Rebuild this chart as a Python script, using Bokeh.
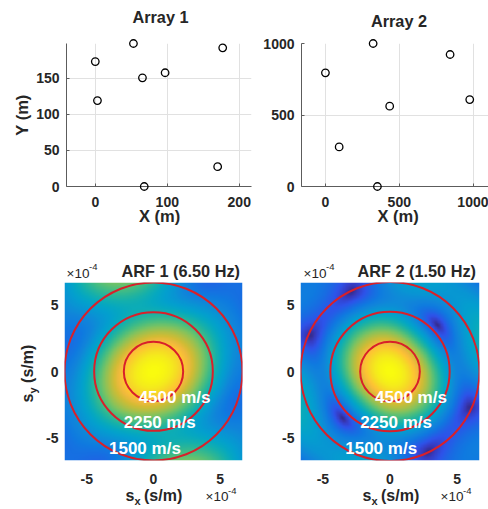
import numpy as np
from bokeh.plotting import figure
from bokeh.models import FixedTicker, LinearColorMapper
from bokeh.layouts import column, row
from bokeh.embed import file_html
from bokeh.resources import INLINE
from bokeh.core.properties import value

# ---------------- data ----------------
arr1_x = [0, 3, 53, 65.5, 97, 68, 170, 177]
arr1_y = [173, 119, 198, 150.5, 157.5, 0, 27.5, 192]
arr2_x = [0, 93, 323, 435, 352, 844, 977]
arr2_y = [795, 277, 1000, 562, 0, 923, 608]
freqs = [6.5, 1.5]
top_titles = ["Array 1", "Array 2"]
arf_titles = ["ARF 1 (6.50 Hz)", "ARF 2 (1.50 Hz)"]
velocities = [4500, 2250, 1500]
vel_labels = ["4500 m/s", "2250 m/s", "1500 m/s"]
arr1_xticks = [0, 100, 200]
arr1_yticks = [0, 50, 100, 150]
arr2_xticks = [0, 500, 1000]
arr2_yticks = [0, 500, 1000]
s_ticks = [-5e-4, 0, 5e-4]
s_tick_labels = ["-5", "0", "5"]

FONT = "Liberation Sans"
TXT = "#262626"
RED = "#d8202a"

# parula-like colormap
_stops = [
    (0.00, (0.2081, 0.1663, 0.5292)), (0.05, (0.2116, 0.2386, 0.7727)),
    (0.10, (0.1779, 0.3253, 0.9159)), (0.15, (0.1050, 0.4100, 0.8900)),
    (0.20, (0.0590, 0.4777, 0.8768)), (0.25, (0.0636, 0.5258, 0.8521)),
    (0.30, (0.0340, 0.5815, 0.8290)), (0.35, (0.0105, 0.6257, 0.8083)),
    (0.40, (0.0208, 0.6591, 0.7532)), (0.45, (0.0777, 0.6887, 0.6757)),
    (0.50, (0.1709, 0.7141, 0.5864)), (0.55, (0.2862, 0.7422, 0.5004)),
    (0.60, (0.4250, 0.7597, 0.4176)), (0.65, (0.5711, 0.7589, 0.3331)),
    (0.70, (0.7035, 0.7477, 0.2606)), (0.75, (0.8241, 0.7351, 0.2034)),
    (0.80, (0.9385, 0.7266, 0.2379)), (0.85, (0.9966, 0.7662, 0.2032)),
    (0.90, (0.9636, 0.8491, 0.1492)), (0.95, (0.9587, 0.9253, 0.1071)),
    (1.00, (0.9763, 0.9831, 0.0538)),
]
_pos = np.array([s[0] for s in _stops])
_rgb = np.array([s[1] for s in _stops])
_t = np.linspace(0, 1, 256)
PARULA = ["#%02x%02x%02x" % tuple(int(round(255 * np.interp(t, _pos, _rgb[:, c]))) for c in range(3)) for t in _t]


def to_data(frame, rng, px, py):
    L, T, R, B = frame
    x0, x1, y0, y1 = rng
    return (x0 + (px - L) / (R - L) * (x1 - x0), y0 + (B - py) / (B - T) * (y1 - y0))


def add_label(p, frame, rng, px, py, text, size, bold=False, align="left",
              angle=0.0, color=TXT):
    # (px, py) = point on the alphabetic baseline, converted to the em middle
    if angle == 0.0:
        py = py - 0.35 * size
    else:
        px = px - 0.35 * size
    x, y = to_data(frame, rng, px, py)
    p.text(x=[x], y=[y], text=[text], text_font=value(FONT), text_font_size=f"{size}px",
           text_font_style="bold" if bold else "normal", text_align=align,
           text_baseline="middle", angle=angle, text_color=color, level="overlay")


def make_fig(origin, size, frame, rng):
    ox, oy = origin
    w, h = size
    L, T, R, B = frame
    p = figure(width=w, height=h, x_range=(rng[0], rng[1]), y_range=(rng[2], rng[3]),
               output_backend="svg", toolbar_location=None, title=None,
               min_border_left=L - ox, min_border_right=ox + w - R,
               min_border_top=T - oy, min_border_bottom=oy + h - B)
    p.outline_line_color = None
    p.background_fill_color = "white"
    p.border_fill_color = "white"
    for ax in (p.xaxis[0], p.yaxis[0]):
        ax.major_label_text_font = FONT
        ax.major_label_text_font_style = "bold"
        ax.major_label_text_font_size = "14px"
        ax.major_label_text_color = TXT
        ax.minor_tick_line_color = None
        ax.major_tick_out = 0
    return p


def array_fig(origin, size, frame, rng, xs, ys, xt, yt, title, ylabel):
    p = make_fig(origin, size, frame, rng)
    p.xaxis.ticker = FixedTicker(ticks=xt)
    p.yaxis.ticker = FixedTicker(ticks=yt)
    for ax in (p.xaxis[0], p.yaxis[0]):
        ax.axis_line_color = "#5c5c5c"
        ax.major_tick_line_color = "#5c5c5c"
        ax.major_tick_in = 3
    p.xaxis.major_label_standoff = 10
    p.yaxis.major_label_standoff = 7
    p.xgrid.ticker = FixedTicker(ticks=xt)
    p.ygrid.ticker = FixedTicker(ticks=yt)
    p.grid.grid_line_color = "#e1e1e1"
    p.grid.grid_line_width = 1
    p.scatter(xs, ys, size=7.5, marker="circle", fill_color=None, line_color="black",
              line_width=1.3, level="overlay")
    L, T, R, B = frame
    add_label(p, frame, rng, title[1], 22.7, title[0], 16.3, bold=True, align="center")
    add_label(p, frame, rng, title[2], 221.5, "X (m)", 16.5, bold=True, align="center")
    if ylabel:
        add_label(p, frame, rng, 27, (T + B) / 2, "Y (m)", 16.5, bold=True, align="center", angle=np.pi / 2)
    return p


def arf_fig(origin, size, frame, xs, ys, f, title, title_x, exp_x, xlabel_x, bexp_x, ylabel):
    smax = 1.0 / min(velocities)
    rng = (-smax, smax, -smax, smax)
    p = make_fig(origin, size, frame, rng)
    p.xaxis.ticker = FixedTicker(ticks=s_ticks)
    p.yaxis.ticker = FixedTicker(ticks=s_ticks)
    p.xaxis.major_label_overrides = {t: l for t, l in zip(s_ticks, s_tick_labels)}
    p.yaxis.major_label_overrides = {t: l for t, l in zip(s_ticks, s_tick_labels)}
    for ax in (p.xaxis[0], p.yaxis[0]):
        ax.axis_line_color = None
        ax.major_tick_line_color = None
    p.xaxis.major_label_standoff = 13
    p.yaxis.major_label_standoff = 6
    p.grid.grid_line_color = None

    # array response function (amplitude) from the station coordinates
    s = np.linspace(-smax, smax, 241)
    SX, SY = np.meshgrid(s, s)
    xa = np.asarray(xs, dtype=float)
    ya = np.asarray(ys, dtype=float)
    ph = 2 * np.pi * f * (SX[..., None] * xa + SY[..., None] * ya)
    arf = np.abs(np.exp(-1j * ph).mean(axis=-1))
    mapper = LinearColorMapper(palette=PARULA, low=0, high=1)
    p.image(image=[arf], x=-smax, y=-smax, dw=2 * smax, dh=2 * smax, color_mapper=mapper)

    radii = [1.0 / v for v in velocities]
    p.circle(x=[0] * len(radii), y=[0] * len(radii), radius=radii, fill_color=None,
             line_color=RED, line_width=2)
    tx = [-0.5 * r for r in radii]
    ty = [-np.sqrt(3) / 2 * r for r in radii]
    p.text(x=tx, y=ty, text=vel_labels, text_font=value(FONT), text_font_style="bold",
           text_font_size="17px", text_color="white", text_align="left", text_baseline="middle")

    add_label(p, frame, rng, title_x, 276, title, 16.3, bold=True)
    add_label(p, frame, rng, exp_x, 277.5, "\u00d710", 13.5)
    add_label(p, frame, rng, exp_x + 22.5, 269.5, "-4", 9.5)
    # x label with subscript
    add_label(p, frame, rng, xlabel_x, 501, "s", 16, bold=True)
    add_label(p, frame, rng, xlabel_x + 8.9, 504.5, "x", 11, bold=True)
    add_label(p, frame, rng, xlabel_x + 18.5, 501, "(s/m)", 16, bold=True)
    add_label(p, frame, rng, bexp_x, 501, "\u00d710", 13.5)
    add_label(p, frame, rng, bexp_x + 22.5, 493.5, "-4", 9.5)
    if ylabel:
        add_label(p, frame, rng, 32.5, 402, "s", 16, bold=True, angle=np.pi / 2)
        add_label(p, frame, rng, 36, 393.1, "y", 11, bold=True, angle=np.pi / 2)
        add_label(p, frame, rng, 32.5, 382.4, "(s/m)", 16, bold=True, angle=np.pi / 2)
    return p


f1 = (66, 43, 251, 186)
r1 = (-40, 217, 0, 198)
p1 = array_fig((0, 0), (256, 240), f1, r1, arr1_x, arr1_y, arr1_xticks, arr1_yticks,
               (top_titles[0], 160, 159), True)
f2 = (301, 40, 488, 186)
r2 = (-162, 1104, 0, 1000)
p2 = array_fig((256, 0), (232, 240), f2, r2, arr2_x, arr2_y, arr2_xticks, arr2_yticks,
               (top_titles[1], 398.5, 397.5), False)

p3 = arf_fig((0, 240), (256, 269), (64, 282, 242, 460), arr1_x, arr1_y, freqs[0],
             arf_titles[0], 121, 66, 125, 205, True)
p4 = arf_fig((256, 240), (232, 269), (300, 282, 479, 460), arr2_x, arr2_y, freqs[1],
             arf_titles[1], 357, 303, 362, 440, False)

layout = column(row(p1, p2), row(p3, p4))
open("out.html", "w").write(file_html(layout, INLINE))
